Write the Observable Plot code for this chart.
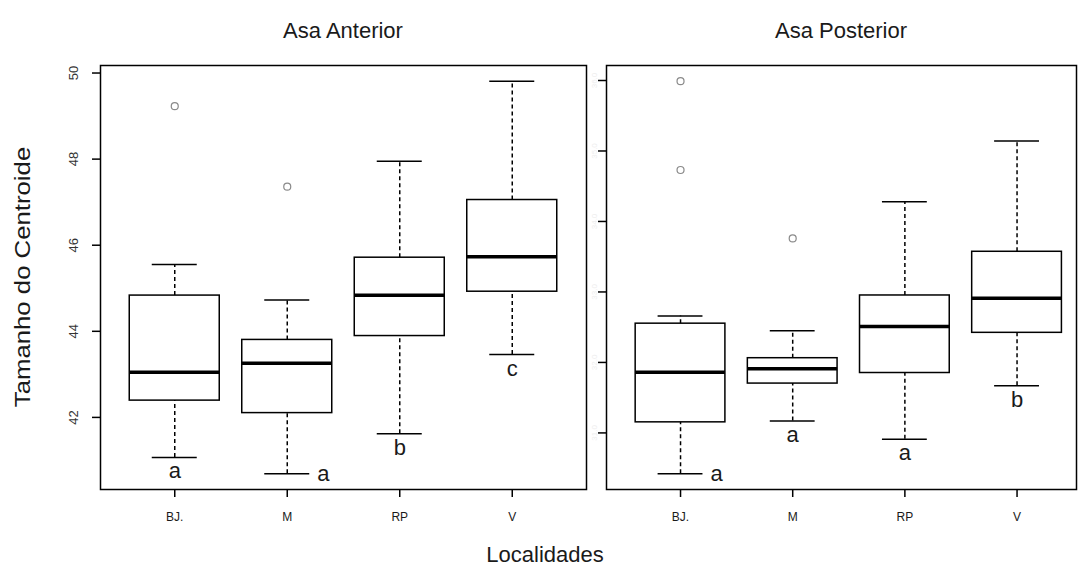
<!DOCTYPE html>
<html><head><meta charset="utf-8">
<script src="https://cdn.jsdelivr.net/npm/d3@7"></script>
<script src="https://cdn.jsdelivr.net/npm/@observablehq/plot@0.6"></script>
<style>
body{margin:0;background:#fff;font-family:"Liberation Sans",Arial,sans-serif;}
#wrap{position:relative;width:1084px;height:572px;overflow:hidden;background:#fff;}
#wrap svg{position:absolute;top:0;}
.t{position:absolute;font-size:22px;color:#1a1a1a;white-space:nowrap;transform:translate(-50%,-50%);}
</style></head><body><div id="wrap"></div>
<script>
const categories = ["BJ.", "M", "RP", "V"];

// Asa Anterior
const antLower  = [41.07, 40.69, 41.62, 43.46];
const antQ1     = [42.39, 42.10, 43.89, 44.92];
const antMedian = [43.05, 43.26, 44.84, 45.73];
const antQ3     = [44.83, 43.80, 45.71, 47.05];
const antUpper  = [45.55, 44.73, 47.95, 49.81];
const antOutliers = [[49.23], [47.36], [], []];
const antLetters = ["a", "a", "b", "c"];
const antLetterSide = ["below", "right", "below", "below"];
const antTicks = [42, 44, 46, 48, 50];

// Asa Posterior
const postLower  = [30.42, 31.17, 30.91, 31.67];
const postQ1     = [31.15, 31.70, 31.85, 32.42];
const postMedian = [31.86, 31.91, 32.51, 32.91];
const postQ3     = [32.55, 32.06, 32.95, 33.57];
const postUpper  = [32.66, 32.45, 34.28, 35.14];
const postOutliers = [[35.99, 34.73], [33.76], [], []];
const postLetters = ["a", "a", "a", "b"];
const postLetterSide = ["right", "below", "below", "below"];
const postTicks = [31, 32, 33, 34, 35, 36];

const font = '"Liberation Sans", Arial, sans-serif';

function panel(o) {
  const idx = categories.map((c, i) => i);
  const all = [...o.lower, ...o.upper, ...o.outliers.flat()];
  const yMin = d3.min(all), yMax = d3.max(all);
  const pad = (yMax - yMin) * 0.04;
  const out = o.outliers.flatMap((vs, i) => vs.map(v => ({i, v})));
  const line = {stroke: "#000", strokeWidth: 1.5};
  return Plot.plot({
    width: o.width, height: 572,
    marginLeft: o.marginLeft, marginRight: o.marginRight, marginTop: 65, marginBottom: 83,
    style: {fontFamily: font, background: "transparent", overflow: "visible"},
    x: {domain: o.xDomain, axis: null},
    y: {domain: [yMin - pad, yMax + pad], axis: null},
    marks: [
      Plot.ruleX(idx, {x: i => i + 1, y1: i => o.q3[i], y2: i => o.upper[i], ...line, strokeDasharray: "4,3"}),
      Plot.ruleX(idx, {x: i => i + 1, y1: i => o.lower[i], y2: i => o.q1[i], ...line, strokeDasharray: "4,3"}),
      Plot.ruleY(idx, {y: i => o.upper[i], x1: i => i + 0.8, x2: i => i + 1.2, ...line}),
      Plot.ruleY(idx, {y: i => o.lower[i], x1: i => i + 0.8, x2: i => i + 1.2, ...line}),
      Plot.rect(idx, {x1: i => i + 0.6, x2: i => i + 1.4, y1: i => o.q1[i], y2: i => o.q3[i], fill: "white", ...line}),
      Plot.ruleY(idx, {y: i => o.median[i], x1: i => i + 0.6, x2: i => i + 1.4, stroke: "#000", strokeWidth: 3.5}),
      Plot.dot(out, {x: d => d.i + 1, y: "v", r: 3.5, stroke: "#8a8a8a", strokeWidth: 1.2, fill: "none"}),
      Plot.text(idx.filter(i => o.letterSide[i] === "below"), {x: i => i + 1, y: i => o.lower[i], text: i => o.letters[i], dy: 14, fontSize: 22, lineAnchor: "middle", fill: "#1a1a1a"}),
      Plot.text(idx.filter(i => o.letterSide[i] === "right"), {x: i => i + 1, y: i => o.lower[i], text: i => o.letters[i], dx: 36, fontSize: 22, lineAnchor: "middle", fill: "#1a1a1a"}),
      Plot.frame({stroke: "#000", strokeWidth: 1.5}),
      Plot.axisY({ticks: o.ticks, tickSize: 8, tickRotate: -90, tickPadding: o.tickPadding, fontSize: o.tickFont, stroke: "#000", strokeWidth: 1.5, fill: o.tickColor, label: null}),
      Plot.axisX({ticks: [1, 2, 3, 4], tickFormat: i => categories[i - 1], tickSize: 8, tickPadding: 15, fontSize: 12, stroke: "#000", strokeWidth: 1.5, fill: "#1a1a1a", label: null})
    ]
  });
}

const wrap = document.getElementById("wrap");

const left = panel({
  lower: antLower, q1: antQ1, median: antMedian, q3: antQ3, upper: antUpper,
  outliers: antOutliers, letters: antLetters, letterSide: antLetterSide,
  ticks: antTicks, tickColor: "#333", tickFont: 13, tickPadding: 15,
  xDomain: [0.34, 4.66], width: 590, marginLeft: 100, marginRight: 4
});
left.style.left = "0px";
wrap.appendChild(left);

const right = panel({
  lower: postLower, q1: postQ1, median: postMedian, q3: postQ3, upper: postUpper,
  outliers: postOutliers, letters: postLetters, letterSide: postLetterSide,
  ticks: postTicks, tickColor: "#eeeeee", tickFont: 8, tickPadding: 2,
  xDomain: [0.34, 4.53], width: 494, marginLeft: 16, marginRight: 8
});
right.style.left = "590px";
wrap.appendChild(right);

function label(text, x, y, rotate) {
  const d = document.createElement("div");
  d.className = "t";
  d.textContent = text;
  d.style.left = x + "px";
  d.style.top = y + "px";
  if (rotate) d.style.transform = "translate(-50%,-50%) rotate(-90deg) scale(1.17,1)";
  wrap.appendChild(d);
}
label("Asa Anterior", 343, 31);
label("Asa Posterior", 841, 31);
label("Tamanho do Centroide", 23, 277, true);
label("Localidades", 545, 555);
</script></body></html>
